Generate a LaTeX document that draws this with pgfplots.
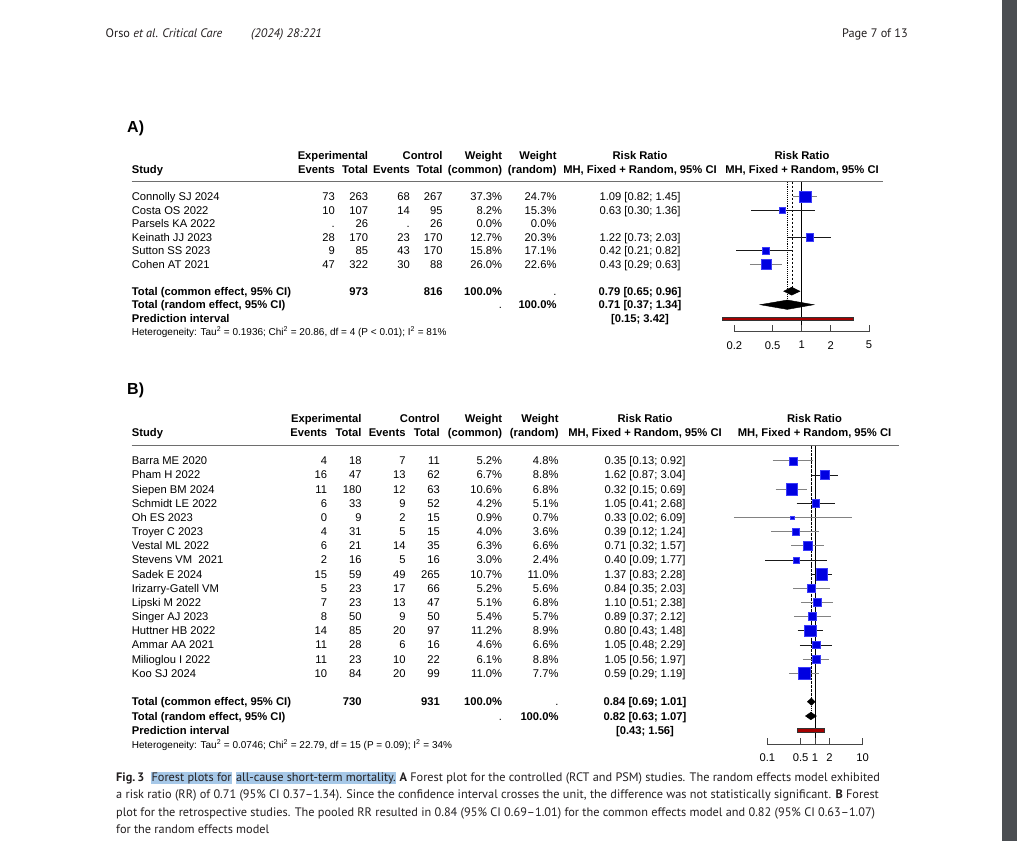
\documentclass[border=0pt]{standalone}
\usepackage{pgfplots}
\pgfplotsset{compat=1.18}
\usepackage{pgfplotstable}
\usepackage{fontspec}
\setmainfont{Liberation Sans}
\newfontfamily\capfont[Ligatures=TeX]{PT Sans}

\definecolor{sqblue}{RGB}{0,0,225}
\definecolor{sqedge}{RGB}{60,60,250}
\definecolor{pired}{RGB}{165,0,0}
\definecolor{cigray}{RGB}{130,130,130}
\definecolor{cidark}{RGB}{25,25,25}
\definecolor{axgray}{RGB}{70,70,70}
\definecolor{rulegray}{RGB}{110,110,110}
\definecolor{hl}{RGB}{166,200,232}
\definecolor{captxt}{RGB}{35,31,32}
\definecolor{band}{RGB}{75,78,82}

\newcommand\tfs{\fontsize{11.2}{13}\selectfont}
\newcommand\hlbox[1]{{\setlength{\fboxsep}{0.6pt}\colorbox{hl}{\vphantom{Fy}#1}}}

% panel A: squares (y = row position, est, half side)
\pgfplotstableread{
y est s
196.7 1.09 5.85
210.2 0.63 2.85
237.2 1.22 3.65
250.7 0.42 3.5
264.2 0.43 5.0
}\sqA
\pgfplotstableread{
x y
0.82 196.7
1.45 196.7
nan nan
0.29 264.2
0.63 264.2
}\ciAgray
\pgfplotstableread{
x y
0.30 210.2
1.36 210.2
nan nan
0.73 237.2
2.03 237.2
nan nan
0.21 250.7
0.82 250.7
}\ciAdark

% panel B
\pgfplotstableread{
y est s
460.7 0.35 4.0
474.9 1.62 4.5
489.0 0.32 5.7
503.2 1.05 3.6
517.4 0.33 1.7
531.6 0.39 3.5
545.7 0.71 4.4
559.9 0.40 3.0
574.1 1.37 5.7
588.2 0.84 4.0
602.4 1.10 3.95
616.6 0.89 4.05
630.7 0.80 5.85
644.9 1.05 3.75
659.1 1.05 4.3
673.3 0.59 5.8
}\sqB
\pgfplotstableread{
x y
0.13 460.7
0.92 460.7
nan nan
0.15 489.0
0.69 489.0
nan nan
0.02 517.4
6.09 517.4
nan nan
0.12 531.6
1.24 531.6
nan nan
0.32 545.7
1.57 545.7
nan nan
0.35 588.2
2.03 588.2
nan nan
0.51 602.4
2.38 602.4
nan nan
0.37 616.6
2.12 616.6
nan nan
0.56 659.1
1.97 659.1
nan nan
0.29 673.3
1.19 673.3
}\ciBgray
\pgfplotstableread{
x y
0.87 474.9
3.04 474.9
nan nan
0.41 503.2
2.68 503.2
nan nan
0.09 559.9
1.77 559.9
nan nan
0.83 574.1
2.28 574.1
nan nan
0.43 630.7
1.48 630.7
nan nan
0.48 644.9
2.29 644.9
}\ciBdark

\pgfplotsset{
  fpanel/.style={
    scale only axis, y dir=reverse, clip=false,
    enlargelimits=false, anchor=south west,
    axis y line=none, axis x line=bottom, x axis line style={-},
    axis line style={axgray, line width=0.7pt},
    tick style={axgray, line width=0.7pt},
    tick align=inside, major tick length=6.5pt, xminorticks=false,
    xticklabel style={font=\tfs, yshift=-6pt, text=black},
    unbounded coords=jump,
  },
  fsq/.style={
    scatter, only marks, mark=square*,
    scatter/use mapped color={draw=sqedge, fill=sqblue},
    visualization depends on={\thisrow{s} \as \hs},
    scatter/@pre marker code/.append style={/tikz/mark size=\hs},
    mark options={line width=0.4pt},
  },
}

\tikzset{
  tx/.style={inner sep=0pt, font=\tfs},
  R/.style={tx, anchor=base east, yshift=-4pt},
  L/.style={tx, anchor=base west, yshift=-4pt},
  C/.style={tx, anchor=base, yshift=-4pt},
  B/.style={font=\tfs\bfseries},
  het/.style={inner sep=0pt, anchor=base west, yshift=-3.5pt, font=\fontsize{10}{12}\selectfont},
  lab/.style={inner sep=0pt, anchor=base west, font=\fontsize{16}{18}\selectfont\bfseries},
}

\begin{document}
\begin{tikzpicture}
\begin{scope}[x=1pt,y=-1pt]
\path[use as bounding box] (0,0) rectangle (1017,841);
\fill[white] (0,0) rectangle (1017,841);
\fill[band] (1002,0) rectangle (1017,841);

% running head
\begin{scope}[every node/.style={inner sep=0pt, font=\capfont\fontsize{12.3}{14}\selectfont, text=captxt}]
\node[anchor=base west] at (105.5,37.3) {Orso \textit{et al. Critical Care}};
\node[anchor=base west] at (251,37.3) {\textit{(2024) 28:221}};
\node[anchor=base east] at (908,37.3) {Page 7 of 13};
\end{scope}

% ================= panel A text =================
\node[lab] at (127,132) {A)};
\node[R,B] at (368.3,155) {Experimental};
\node[R,B] at (442.7,155) {Control};
\node[R,B] at (502.3,155) {Weight};
\node[R,B] at (556.7,155) {Weight};
\node[C,B] at (640,155) {Risk Ratio};
\node[C,B] at (802,155) {Risk Ratio};
\node[L,B] at (131.7,169.5) {Study};
\node[R,B] at (335,169.5) {Events};
\node[R,B] at (368.3,169.5) {Total};
\node[R,B] at (410,169.5) {Events};
\node[R,B] at (442.7,169.5) {Total};
\node[R,B] at (502.3,169.5) {(common)};
\node[R,B] at (556.7,169.5) {(random)};
\node[C,B] at (640,169.5) {MH, Fixed + Random, 95\% CI};
\node[C,B] at (802,169.5) {MH, Fixed + Random, 95\% CI};
\draw[rulegray, line width=1.1pt] (131.7,181.7) -- (882.7,181.7);

\foreach \y/\n/\a/\b/\c/\d/\e/\f/\r in {
  196.7/Connolly SJ 2024/73/263/68/267/37.3\%/24.7\%/1.09 [0.82; 1.45],
  210.2/Costa OS 2022/10/107/14/95/8.2\%/15.3\%/0.63 [0.30; 1.36],
  223.7/Parsels KA 2022/./26/./26/0.0\%/0.0\%/,
  237.2/Keinath JJ 2023/28/170/23/170/12.7\%/20.3\%/1.22 [0.73; 2.03],
  250.7/Sutton SS 2023/9/85/43/170/15.8\%/17.1\%/0.42 [0.21; 0.82],
  264.2/Cohen AT 2021/47/322/30/88/26.0\%/22.6\%/0.43 [0.29; 0.63]} {
  \node[L] at (131.7,\y) {\n};
  \node[R] at (335,\y) {\a};
  \node[R] at (368.3,\y) {\b};
  \node[R] at (410,\y) {\c};
  \node[R] at (442.7,\y) {\d};
  \node[R] at (502.3,\y) {\e};
  \node[R] at (556.7,\y) {\f};
  \node[C] at (640,\y) {\r};
}
\node[L,B] at (131.7,291.2) {Total (common effect, 95\% CI)};
\node[R,B] at (368.3,291.2) {973};
\node[R,B] at (442.7,291.2) {816};
\node[R,B] at (502.3,291.2) {100.0\%};
\node[R] at (556.7,291.2) {.};
\node[C,B] at (640,291.2) {0.79 [0.65; 0.96]};
\node[L,B] at (131.7,304.7) {Total (random effect, 95\% CI)};
\node[R] at (502.3,304.7) {.};
\node[R,B] at (556.7,304.7) {100.0\%};
\node[C,B] at (640,304.7) {0.71 [0.37; 1.34]};
\node[L,B] at (131.7,318.2) {Prediction interval};
\node[C,B] at (640,318.2) {[0.15; 3.42]};
\node[het] at (131.7,331.7) {Heterogeneity: Tau\textsuperscript{2} = 0.1936; Chi\textsuperscript{2} = 20.86, df = 4 (P < 0.01); I\textsuperscript{2} = 81\%};

% ================= panel B text =================
\node[lab] at (127,394) {B)};
\node[R,B] at (361.7,418.3) {Experimental};
\node[R,B] at (440,418.3) {Control};
\node[R,B] at (502.3,418.3) {Weight};
\node[R,B] at (558.7,418.3) {Weight};
\node[C,B] at (645,418.3) {Risk Ratio};
\node[C,B] at (814.5,418.3) {Risk Ratio};
\node[L,B] at (131.7,432.3) {Study};
\node[R,B] at (327.3,432.3) {Events};
\node[R,B] at (361.7,432.3) {Total};
\node[R,B] at (405.7,432.3) {Events};
\node[R,B] at (440,432.3) {Total};
\node[R,B] at (502.3,432.3) {(common)};
\node[R,B] at (558.7,432.3) {(random)};
\node[C,B] at (645,432.3) {MH, Fixed + Random, 95\% CI};
\node[C,B] at (814.5,432.3) {MH, Fixed + Random, 95\% CI};
\draw[rulegray, line width=1.1pt] (131.7,445.7) -- (899,445.7);

\foreach \y/\n/\a/\b/\c/\d/\e/\f/\r in {
  460.7/Barra ME 2020/4/18/7/11/5.2\%/4.8\%/0.35 [0.13; 0.92],
  474.9/Pham H 2022/16/47/13/62/6.7\%/8.8\%/1.62 [0.87; 3.04],
  489.0/Siepen BM 2024/11/180/12/63/10.6\%/6.8\%/0.32 [0.15; 0.69],
  503.2/Schmidt LE 2022/6/33/9/52/4.2\%/5.1\%/1.05 [0.41; 2.68],
  517.4/Oh ES 2023/0/9/2/15/0.9\%/0.7\%/0.33 [0.02; 6.09],
  531.6/Troyer C 2023/4/31/5/15/4.0\%/3.6\%/0.39 [0.12; 1.24],
  545.7/Vestal ML 2022/6/21/14/35/6.3\%/6.6\%/0.71 [0.32; 1.57],
  559.9/Stevens VM\ \ 2021/2/16/5/16/3.0\%/2.4\%/0.40 [0.09; 1.77],
  574.1/Sadek E 2024/15/59/49/265/10.7\%/11.0\%/1.37 [0.83; 2.28],
  588.2/Irizarry-Gatell VM/5/23/17/66/5.2\%/5.6\%/0.84 [0.35; 2.03],
  602.4/Lipski M 2022/7/23/13/47/5.1\%/6.8\%/1.10 [0.51; 2.38],
  616.6/Singer AJ 2023/8/50/9/50/5.4\%/5.7\%/0.89 [0.37; 2.12],
  630.7/Huttner HB 2022/14/85/20/97/11.2\%/8.9\%/0.80 [0.43; 1.48],
  644.9/Ammar AA 2021/11/28/6/16/4.6\%/6.6\%/1.05 [0.48; 2.29],
  659.1/Milioglou I 2022/11/23/10/22/6.1\%/8.8\%/1.05 [0.56; 1.97],
  673.3/Koo SJ 2024/10/84/20/99/11.0\%/7.7\%/0.59 [0.29; 1.19]} {
  \node[L] at (131.7,\y) {\n};
  \node[R] at (327.3,\y) {\a};
  \node[R] at (361.7,\y) {\b};
  \node[R] at (405.7,\y) {\c};
  \node[R] at (440,\y) {\d};
  \node[R] at (502.3,\y) {\e};
  \node[R] at (558.7,\y) {\f};
  \node[C] at (645,\y) {\r};
}
\node[L,B] at (131.7,701.7) {Total (common effect, 95\% CI)};
\node[R,B] at (361.7,701.7) {730};
\node[R,B] at (440,701.7) {931};
\node[R,B] at (502.3,701.7) {100.0\%};
\node[R] at (558.7,701.7) {.};
\node[C,B] at (645,701.7) {0.84 [0.69; 1.01]};
\node[L,B] at (131.7,716) {Total (random effect, 95\% CI)};
\node[R] at (502.3,716) {.};
\node[R,B] at (558.7,716) {100.0\%};
\node[C,B] at (645,716) {0.82 [0.63; 1.07]};
\node[L,B] at (131.7,730.3) {Prediction interval};
\node[C,B] at (645,730.3) {[0.43; 1.56]};
\node[het] at (131.7,745) {Heterogeneity: Tau\textsuperscript{2} = 0.0746; Chi\textsuperscript{2} = 22.79, df = 15 (P = 0.09); I\textsuperscript{2} = 34\%};

% caption
\begin{scope}[every node/.style={inner sep=0pt, anchor=base west, text=captxt, font=\capfont\fontsize{12.3}{15}\selectfont}]
\node at (116,781) {\textbf{Fig.\,3}\ \ \hlbox{Forest plots for} \hlbox{all-cause short-term mortality.} \textbf{A} Forest plot for the controlled (RCT and PSM) studies. The random effects model exhibited};
\node at (116,798.5) {a risk ratio (RR) of 0.71 (95\% CI 0.37\textendash1.34). Since the confidence interval crosses the unit, the difference was not statistically significant. \textbf{B} Forest};
\node at (116,816) {plot for the retrospective studies. The pooled RR resulted in 0.84 (95\% CI 0.69\textendash1.01) for the common effects model and 0.82 (95\% CI 0.63\textendash1.07)};
\node at (116,833.5) {for the random effects model};
\end{scope}
\end{scope}

% ================= panel A plot =================
\begin{axis}[fpanel, xmode=log, at={(734.3pt,-331.7pt)}, width=134.7pt, height=150pt,
  xmin=0.2, xmax=5, ymin=181.7, ymax=331.7,
  xtick={0.2,0.5,1,2,5}, xticklabels={0.2,0.5,1,2,5}]
  \addplot[black, line width=0.6pt] coordinates {(1,181.7) (1,325.2)};
  \addplot[black, line width=0.5pt, dash pattern=on 2.5pt off 1.5pt] coordinates {(0.79,181.7) (0.79,292)};
  \addplot[black, line width=0.5pt, dash pattern=on 0.7pt off 1.2pt] coordinates {(0.71,181.7) (0.71,303)};
  \addplot[cigray, line width=0.8pt] table[x=x, y=y] {\ciAgray};
  \addplot[cidark, line width=0.8pt] table[x=x, y=y] {\ciAdark};
  \addplot[fsq] table[x=est, y=y] {\sqA};
  \addplot[fill=black, draw=black] coordinates {(0.65,291.2) (0.79,287.2) (0.96,291.2) (0.79,295.2)} -- cycle;
  \addplot[fill=black, draw=black] coordinates {(0.37,304.7) (0.71,300.0) (1.34,304.7) (0.71,309.4)} -- cycle;
  \addplot[fill=pired, draw=black!80, line width=0.3pt] coordinates {(0.15,316.9) (3.42,316.9) (3.42,320.3) (0.15,320.3)} -- cycle;
\end{axis}

% ================= panel B plot =================
\begin{axis}[fpanel, xmode=log, at={(767.3pt,-744pt)}, width=95.4pt, height=298.3pt,
  xmin=0.1, xmax=10, ymin=445.7, ymax=744,
  xtick={0.1,0.5,1,2,10}, xticklabels={0.1,0.5,1,2,10}]
  \addplot[black, line width=0.6pt] coordinates {(1,445.7) (1,737.5)};
  \addplot[black, line width=0.5pt, dash pattern=on 2.5pt off 1.5pt] coordinates {(0.84,445.7) (0.84,702)};
  \addplot[black, line width=0.5pt, dash pattern=on 0.7pt off 1.2pt] coordinates {(0.82,445.7) (0.82,716)};
  \addplot[cigray, line width=0.8pt] table[x=x, y=y] {\ciBgray};
  \addplot[cidark, line width=0.8pt] table[x=x, y=y] {\ciBdark};
  \addplot[fsq] table[x=est, y=y] {\sqB};
  \addplot[fill=black, draw=black] coordinates {(0.69,701.7) (0.84,698.1) (1.01,701.7) (0.84,705.3)} -- cycle;
  \addplot[fill=black, draw=black] coordinates {(0.63,716) (0.82,712.2) (1.07,716) (0.82,719.8)} -- cycle;
  \addplot[fill=pired, draw=black!80, line width=0.3pt] coordinates {(0.43,728.6) (1.56,728.6) (1.56,732) (0.43,732)} -- cycle;
\end{axis}
\end{tikzpicture}
\end{document}
